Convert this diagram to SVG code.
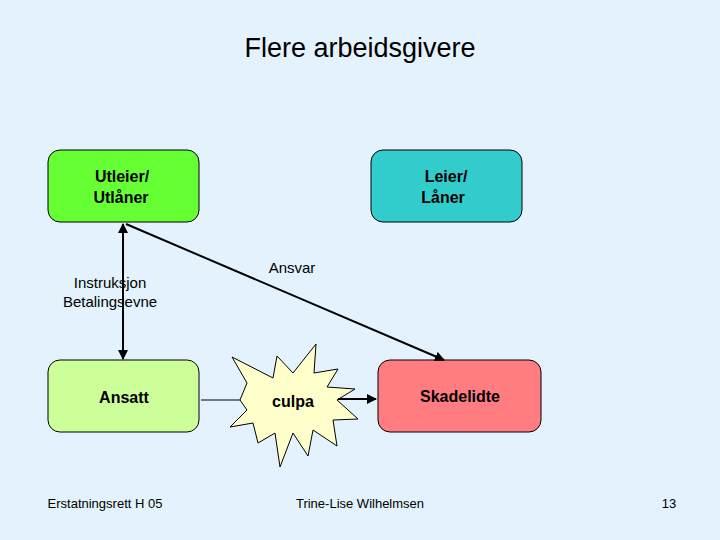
<svg xmlns="http://www.w3.org/2000/svg" width="720" height="540" viewBox="0 0 720 540">
<defs>
<style>
.t{font-family:"Liberation Sans",Arial,sans-serif;fill:#000}
.b{font-weight:bold;font-size:16px}
.box{stroke:#000;stroke-width:1}
</style>
<marker id="ah" viewBox="0 0 10 10" refX="9" refY="5" markerWidth="5" markerHeight="5" orient="auto-start-reverse"><path d="M0,0L10,5L0,10z" fill="#000"/></marker>
</defs>
<rect width="720" height="540" fill="#e3f2fc"/>
<text class="t" x="360" y="57" font-size="27" text-anchor="middle">Flere arbeidsgivere</text>
<g id="utleier"><rect class="box" x="48" y="150" width="151" height="72" rx="12" fill="#66ff33"/><text class="t b" x="122" y="182" text-anchor="middle">Utleier/</text><text class="t b" x="121" y="203" text-anchor="middle">Utlåner</text></g>
<g id="leier"><rect class="box" x="371" y="150" width="151" height="72" rx="12" fill="#33cccc"/><text class="t b" x="446" y="182" text-anchor="middle">Leier/</text><text class="t b" x="443" y="203" text-anchor="middle">Låner</text></g>
<g id="ansatt"><rect class="box" x="48" y="360" width="151" height="72" rx="12" fill="#ccff99"/><text class="t b" x="124" y="403" text-anchor="middle">Ansatt</text></g>
<g id="skadelidte"><rect class="box" x="378" y="360" width="163" height="72" rx="12" fill="#ff7c80"/><text class="t b" x="460" y="402" text-anchor="middle">Skadelidte</text></g>
<g id="culpa"><polygon class="box" fill="#ffffcc" points="316,344 314,373 338,369 327,387 355,389 337,400 358,419 333,420 337,446 313,430 308,456 293,433 280,467 275,433 258,443 253,423 230,427 247,410 240,400 247,383 232,357 273,378 277,356 293,373"/><text class="t b" x="293" y="407" text-anchor="middle">culpa</text></g>
<g id="connectors" stroke="#000">
<line x1="123" y1="224" x2="123" y2="359" stroke-width="2" marker-start="url(#ah)" marker-end="url(#ah)"/>
<line x1="126" y1="224" x2="444" y2="360" stroke-width="2" marker-end="url(#ah)"/>
<line x1="201" y1="400" x2="240" y2="400" stroke-width="1"/>
<line x1="338" y1="399" x2="376" y2="399" stroke-width="2" marker-end="url(#ah)"/>
</g>
<text class="t" x="110" y="288" font-size="15" text-anchor="middle">Instruksjon</text>
<text class="t" x="110" y="307" font-size="15" text-anchor="middle">Betalingsevne</text>
<text class="t" x="292" y="273" font-size="15" text-anchor="middle">Ansvar</text>
<text class="t" x="105" y="508" font-size="13" text-anchor="middle">Erstatningsrett H 05</text>
<text class="t" x="360" y="508" font-size="13" text-anchor="middle">Trine-Lise Wilhelmsen</text>
<text class="t" x="669" y="508" font-size="13" text-anchor="middle">13</text>
</svg>
